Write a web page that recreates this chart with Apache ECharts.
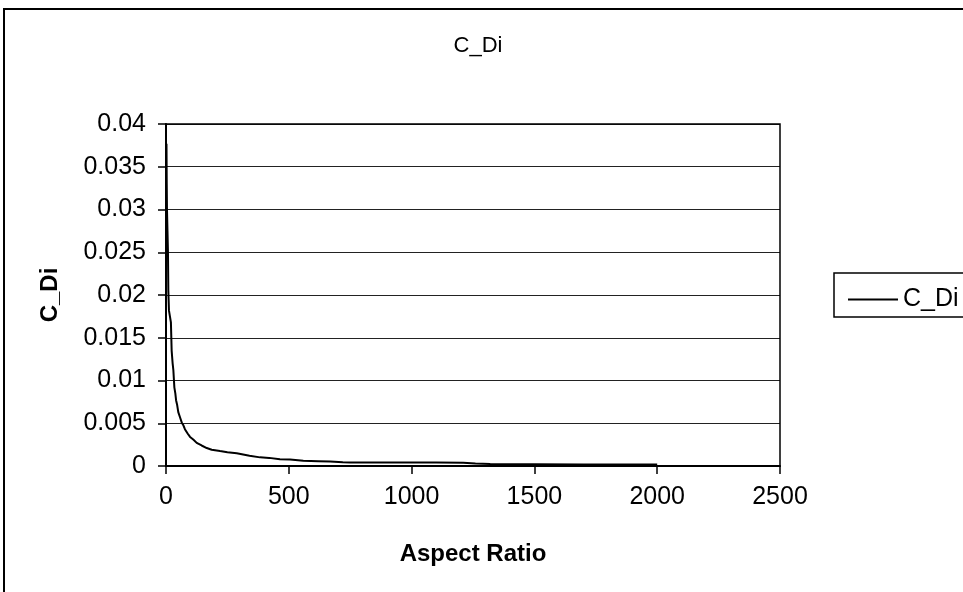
<!DOCTYPE html>
<html>
<head>
<meta charset="utf-8">
<script src="https://cdn.jsdelivr.net/npm/echarts@6/dist/echarts.min.js"></script>
<style>html,body{margin:0;padding:0;background:#fff}#c{width:963px;height:592px}</style>
</head>
<body>
<div id="c"></div>
<script>
const chartTitle = 'C_Di';
const xName = 'Aspect Ratio';
const yName = 'C_Di';
const seriesName = 'C_Di';
const aspectRatio = [2,3,4,6,8,9.5,12,16,20,23,27,30,34,38,41,45,50,57,64,70,77,88,98,111,125,145,166,186,220,250,288,340,383,420,464,505,559,620,668,720,750,831,953,1100,1210,1260,1320,1500,1700,2000];
const cDi = [0.0377,0.0330,0.0300,0.0275,0.0250,0.0205,0.0182,0.0175,0.0168,0.0135,0.0120,0.0112,0.0092,0.0085,0.0077,0.0072,0.0063,0.0057,0.0051,0.0048,0.0043,0.0038,0.0034,0.0031,0.0027,0.0024,0.0021,0.0019,0.00175,0.00162,0.00148,0.00120,0.00101,0.00095,0.00080,0.00075,0.00060,0.00056,0.00052,0.00045,0.00042,0.00042,0.00040,0.00040,0.00038,0.00030,0.00022,0.00020,0.00018,0.00017];
const xTicks = [0,500,1000,1500,2000,2500];
const yTicks = [0,0.005,0.01,0.015,0.02,0.025,0.03,0.035,0.04];

const chart = echarts.init(document.getElementById('c'), null, {renderer:'canvas'});
const font = 'Liberation Sans, Arial, sans-serif';
chart.setOption({
  animation: false,
  backgroundColor: '#fff',
  title: {text: chartTitle, left: 473, top: 30, textAlign: 'center',
    textStyle: {fontFamily: font, fontSize: 22, fontWeight: 'normal', color: '#000'}},
  legend: {left: 843, top: 282, itemWidth: 50, itemHeight: 2, itemGap: 4,
    data: [{name: seriesName, icon: 'rect'}],
    textStyle: {fontFamily: font, fontSize: 25, color: '#000'}},
  graphic: [
    {type: 'rect', shape: {x: 4, y: 9, width: 1100, height: 700}, style: {fill: 'none', stroke: '#000', lineWidth: 2}, z: -1},
    {type: 'rect', shape: {x: 834, y: 273, width: 200, height: 44}, style: {fill: 'none', stroke: '#000', lineWidth: 1.5}, z: 10},
    {type: 'rect', shape: {x: 166, y: 124, width: 614, height: 342}, style: {fill: 'none', stroke: '#000', lineWidth: 1.5}, z: 5}
  ],
  grid: {left: 166, top: 124, right: 183, bottom: 126, containLabel: false},
  xAxis: {
    type: 'value', min: xTicks[0], max: xTicks[xTicks.length-1], interval: 500,
    name: xName, nameLocation: 'middle', nameGap: 76,
    nameTextStyle: {fontFamily: font, fontSize: 24, fontWeight: 'bold', color: '#000'},
    axisLine: {show: true, lineStyle: {color: '#000', width: 2}},
    axisTick: {show: true, length: 8, lineStyle: {color: '#000', width: 1.5}},
    axisLabel: {fontFamily: font, fontSize: 25, color: '#000', margin: 19, formatter: v => String(v)},
    splitLine: {show: false}
  },
  yAxis: {
    type: 'value', min: yTicks[0], max: yTicks[yTicks.length-1], interval: 0.005,
    name: yName, nameLocation: 'middle', nameGap: 104, nameRotate: 90,
    nameTextStyle: {fontFamily: font, fontSize: 24, fontWeight: 'bold', color: '#000'},
    axisLine: {show: true, lineStyle: {color: '#000', width: 2}},
    axisTick: {show: true, length: 8, lineStyle: {color: '#000', width: 1.5}},
    axisLabel: {fontFamily: font, fontSize: 25, color: '#000', margin: 20, formatter: v => String(v)},
    splitLine: {show: true, lineStyle: {color: '#222', width: 1}}
  },
  series: [{
    name: seriesName, type: 'line', symbol: 'none', showSymbol: false,
    data: aspectRatio.map((x, i) => [x, cDi[i]]),
    lineStyle: {color: '#000', width: 2},
    itemStyle: {color: '#000'}
  }]
});
</script>
</body>
</html>
